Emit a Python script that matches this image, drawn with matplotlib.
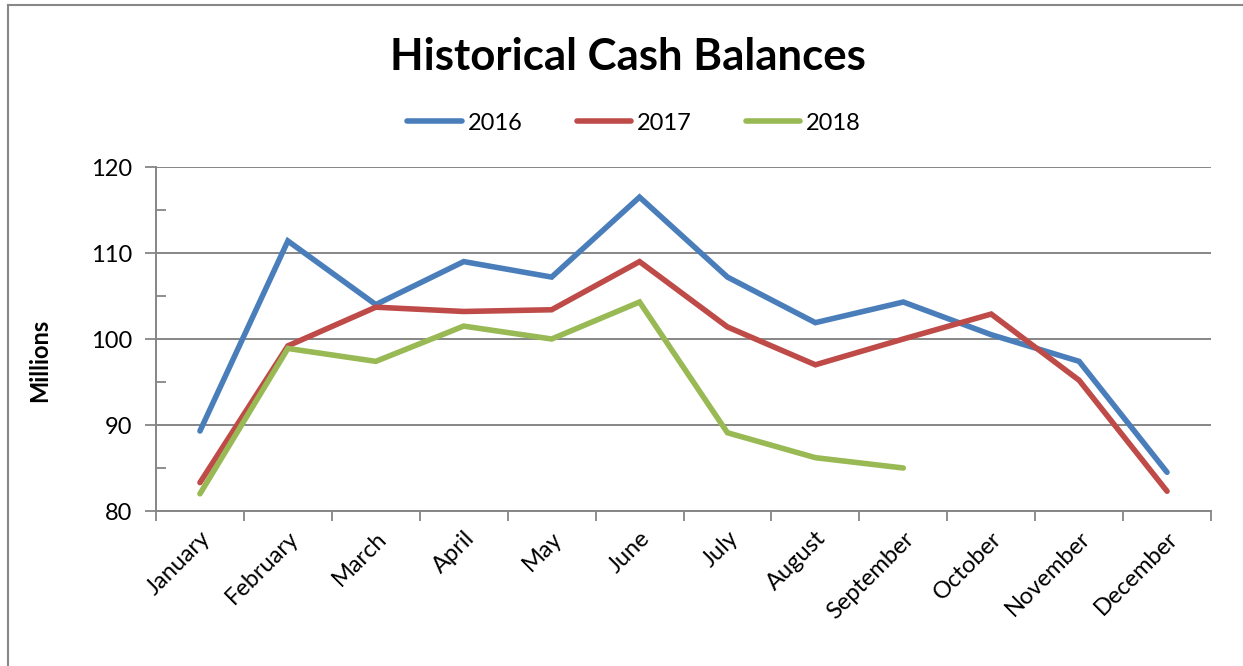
import matplotlib
matplotlib.use("Agg")
import matplotlib.pyplot as plt
from matplotlib.lines import Line2D
from matplotlib.ticker import FixedLocator, NullFormatter

months = ["January", "February", "March", "April", "May", "June", "July",
          "August", "September", "October", "November", "December"]
y2016 = [89.3, 111.4, 104.0, 109.0, 107.2, 116.5, 107.2, 101.9, 104.3, 100.5, 97.4, 84.5]
y2017 = [83.3, 99.2, 103.7, 103.2, 103.4, 109.0, 101.4, 97.0, 100.0, 102.9, 95.2, 82.3]
y2018 = [82.0, 98.9, 97.4, 101.5, 100.0, 104.3, 89.1, 86.2, 85.0]
series_names = ["2016", "2017", "2018"]
colors = ["#4A7EBB", "#BE4B48", "#98B954"]
yticks = [80, 90, 100, 110, 120]

plt.rcParams['font.family'] = ['Lato', 'DejaVu Sans']

fig = plt.figure(figsize=(12.43, 6.66), dpi=100)
ax = fig.add_axes([156/1243, 1-511/666, (1211-156)/1243, (511-167)/666])

x = list(range(len(months)))
for vals, name, c in zip([y2016, y2017, y2018], series_names, colors):
    ax.plot(x[:len(vals)], vals, color=c, lw=4.0, label=name,
            solid_capstyle='round', solid_joinstyle='miter', zorder=3)

grid_c = "#868686"
ax.set_xlim(-0.5, len(months) - 0.5)
ax.set_ylim(80, 120)
ax.set_yticks(yticks)
ax.yaxis.set_minor_locator(FixedLocator([85, 95, 105, 115]))
ax.tick_params(axis='y', which='major', length=8, width=1.3, color=grid_c,
               labelsize=17, pad=9)
ax.tick_params(axis='y', which='minor', direction='in', length=7, width=1.3, color=grid_c)
ax.grid(axis='y', which='major', color=grid_c, lw=1.4)
ax.set_axisbelow(True)

ax.set_xticks([i - 0.5 for i in range(len(months) + 1)])
ax.xaxis.set_major_formatter(NullFormatter())
ax.set_xticks(x, minor=True)
ax.set_xticklabels(months, minor=True, rotation=45, ha='right',
                   rotation_mode='anchor', fontsize=17)
ax.tick_params(axis='x', which='major', length=7, width=1.3, color=grid_c, direction='out')
ax.tick_params(axis='x', which='minor', length=0, pad=12)

for s in ['top', 'right']:
    ax.spines[s].set_visible(False)
for s in ['left', 'bottom']:
    ax.spines[s].set_color(grid_c)
    ax.spines[s].set_linewidth(1.4)

fig.text(0.505, 1-57/666, "Historical Cash Balances", ha='center', va='center',
         fontsize=31.5, fontweight='bold')
fig.text(40/1243, 1-360/666, "Millions", rotation=90, ha='center', va='center',
         fontsize=17, fontweight='bold')

leg = fig.legend(loc='center', bbox_to_anchor=(634/1243, 1-123/666), ncol=3,
                 frameon=False, fontsize=17, handlelength=2.3, columnspacing=2.3,
                 handletextpad=0.25)

fig.add_artist(Line2D([7.5/1243, 7.5/1243], [0, 1-4.5/666], transform=fig.transFigure,
                      color="#888888", lw=1.5))
fig.add_artist(Line2D([7.5/1243, 1], [1-4.5/666, 1-4.5/666], transform=fig.transFigure,
                      color="#888888", lw=1.5))

fig.savefig("out.png", dpi=100)
